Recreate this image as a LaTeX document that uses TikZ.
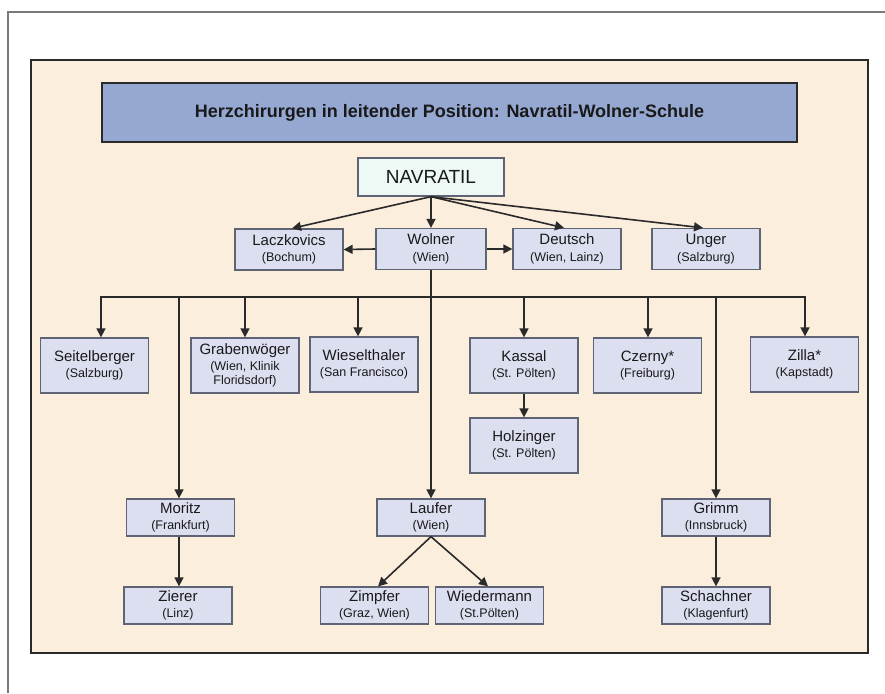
\documentclass[tikz,border=0pt]{standalone}
\usepackage{fontspec}
\setmainfont{Liberation Sans}
\usetikzlibrary{arrows.meta,calc}
\definecolor{panel}{HTML}{FCEEDD}
\definecolor{titlefill}{HTML}{95A8D2}
\definecolor{boxfill}{HTML}{DCDFF0}
\definecolor{boxline}{HTML}{5E6474}
\definecolor{navfill}{HTML}{EEF8F5}
\definecolor{ink}{HTML}{2A2A2A}
\definecolor{frame}{HTML}{7A7A7A}
\newcommand{\loc}[1]{{\fontsize{12.5}{14}\selectfont #1}}
\begin{document}
\begin{tikzpicture}[x=1pt,y=-1pt,
 person/.style={draw=boxline, fill=boxfill, line width=1.3pt, minimum width=108pt, minimum height=41pt, align=center, inner sep=0pt, font=\fontsize{15}{16.5}\selectfont, text=black!90},
 tall/.style={person, minimum height=55pt},
 short/.style={person, minimum height=37pt},
 arr/.style={draw=ink, line width=1.6pt, -{Triangle[length=9pt,width=9pt]}},
 ln/.style={draw=ink, line width=1.6pt, line cap=rect}
]
\useasboundingbox (0,0) rectangle (885,693);
% outer frame
\draw[frame, line width=1.2pt] (8,693) -- (8,12) -- (885,12);
% panel
\draw[ink, line width=2pt, fill=panel] (31,60) rectangle (868,653);
% title
\node[draw=ink, line width=2pt, fill=titlefill, minimum width=695pt, minimum height=59pt, inner sep=0pt, font=\bfseries\fontsize{18}{20}\selectfont, text=black!90] (title) at (449.5,112.5) {Herzchirurgen in leitender Position: Navratil-Wolner-Schule};
% top
\node[draw=boxline, fill=navfill, line width=1.3pt, minimum width=146pt, minimum height=38pt, inner sep=0pt, font=\fontsize{19}{22}\selectfont, text=black!90] (nav) at (431,177) {NAVRATIL};
% row 2
\node[person] (lacz) at (289,249.5) {Laczkovics\\\loc{(Bochum)}};
\node[person, minimum width=110pt] (wolner) at (431,249) {Wolner\\\loc{(Wien)}};
\node[person] (deutsch) at (567,249) {Deutsch\\\loc{(Wien, Lainz)}};
\node[person] (unger) at (706,249) {Unger\\\loc{(Salzburg)}};
% row 3
\node[tall] (seit) at (94.5,365.5) {Seitelberger\\\loc{(Salzburg)}};
\node[tall] (graben) at (245,365.5) {Grabenwöger\\\loc{(Wien, Klinik}\\[-2.5pt]\loc{Floridsdorf)}};
\node[tall] (wiesel) at (364,364.5) {Wieselthaler\\\loc{(San Francisco)}};
\node[tall] (kassal) at (524,365.5) {Kassal\\\loc{(St. Pölten)}};
\node[tall] (czerny) at (647.5,365.5) {Czerny*\\\loc{(Freiburg)}};
\node[tall] (zilla) at (804.5,364.5) {Zilla*\\\loc{(Kapstadt)}};
\node[tall] (holz) at (524,445.5) {Holzinger\\\loc{(St. Pölten)}};
% row 4
\node[short] (moritz) at (180.5,517.5) {Moritz\\\loc{(Frankfurt)}};
\node[short] (laufer) at (431,517.5) {Laufer\\\loc{(Wien)}};
\node[short] (grimm) at (716,517.5) {Grimm\\\loc{(Innsbruck)}};
% row 5
\node[short] (zierer) at (178,605.5) {Zierer\\\loc{(Linz)}};
\node[short] (zimpfer) at (374.5,605.5) {Zimpfer\\\loc{(Graz, Wien)}};
\node[short] (wied) at (489.5,605.5) {Wiedermann\\\loc{(St.Pölten)}};
\node[short] (schach) at (716,605.5) {Schachner\\\loc{(Klagenfurt)}};
% connectors from Navratil
\draw[arr] (nav.south) -- ($(lacz.north)+(3,0)$);
\draw[arr] (nav.south) -- (wolner.north);
\draw[arr] (nav.south) -- ($(deutsch.north)+(-3,0)$);
\draw[arr] (nav.south) -- ($(unger.north)+(-3,0)$);
\draw[arr] (wolner.west) -- (lacz.east);
\draw[arr] (wolner.east) -- (deutsch.west);
% bus
\coordinate (b1) at (101,297);
\coordinate (b2) at (179,297);
\coordinate (b3) at (245,297);
\coordinate (b4) at (358,297);
\coordinate (b6) at (524,297);
\coordinate (b7) at (648,297);
\coordinate (b8) at (716,297);
\coordinate (b9) at (805,297);
\draw[ln] (b1) -- (b9);
\draw[arr] (wolner.south) -- (wolner.south |- laufer.north);
\draw[arr] (b1) -- (b1 |- seit.north);
\draw[arr] (b2) -- (b2 |- moritz.north);
\draw[arr] (b3) -- (b3 |- graben.north);
\draw[arr] (b4) -- (b4 |- wiesel.north);
\draw[arr] (b6) -- (b6 |- kassal.north);
\draw[arr] (b7) -- (b7 |- czerny.north);
\draw[arr] (b8) -- (b8 |- grimm.north);
\draw[arr] (b9) -- (b9 |- zilla.north);
% lower links
\draw[arr] (kassal.south) -- (holz.north);
\draw[arr] (b2 |- moritz.south) -- (b2 |- zierer.north);
\draw[arr] (laufer.south) -- ($(zimpfer.north)+(3.5,0)$);
\draw[arr] (laufer.south) -- ($(wied.north)+(-1.5,0)$);
\draw[arr] (grimm.south) -- (schach.north);
\end{tikzpicture}
\end{document}
